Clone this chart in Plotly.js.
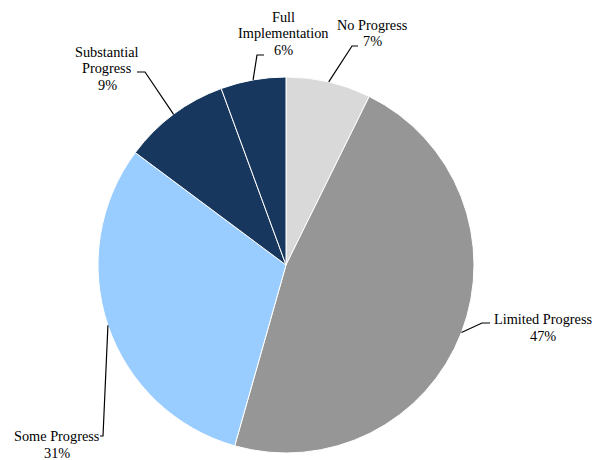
<!DOCTYPE html>
<html>
<head>
<meta charset="utf-8">
<script src="https://cdn.plot.ly/plotly-3.0.1.min.js"></script>
<style>html,body{margin:0;padding:0;background:#fff;}#chart{width:602px;height:460px;}</style>
</head>
<body>
<div id="chart"></div>
<script>
// Data
const categories = ["No Progress", "Limited Progress", "Some Progress", "Substantial Progress", "Full Implementation"];
const values = [7.3, 47.1, 30.8, 9.2, 5.6];
const labelLines = [["No Progress"], ["Limited Progress"], ["Some Progress"], ["Substantial", "Progress"], ["Full", "Implementation"]];
const colors = ["#d9d9d9", "#969696", "#99ccff", "#17375e", "#17375e"];

// Layout constants (pixels)
const W = 602, H = 460;
const CX = 286, CY = 265, R = 188;
const labelPos = [
  {elbow: [352, 46], end: [358, 46], tx: 372, ty: 25},
  {elbow: [482, 323], end: [490, 323], tx: 543, ty: 319},
  {elbow: [103, 436], end: [100, 436], tx: 57, ty: 436},
  {elbow: [145, 72], end: [137, 72], tx: 107, ty: 52},
  {elbow: [257, 55], end: [264, 55], tx: 283, ty: 17}
];
const LINE_STEP = 16.5;

const px = x => x / W;
const py = y => 1 - y / H;

const total = values.reduce((a, b) => a + b, 0);
const fmtPct = v => Math.round(v / total * 100) + "%";

const shapes = [];
const annotations = [];
let cum = 0;
values.forEach((v, i) => {
  const mid = (cum + v / 2) / total * 2 * Math.PI;
  cum += v;
  const sx = CX + R * Math.sin(mid);
  const sy = CY - R * Math.cos(mid);
  const p = labelPos[i];
  shapes.push({
    type: "path", xref: "paper", yref: "paper",
    path: `M ${px(sx)},${py(sy)} L ${px(p.elbow[0])},${py(p.elbow[1])} L ${px(p.end[0])},${py(p.end[1])}`,
    line: {color: "#000", width: 1.2}
  });
  const lines = labelLines[i].concat([fmtPct(v)]);
  lines.forEach((t, k) => {
    annotations.push({
      xref: "paper", yref: "paper", x: px(p.tx), y: py(p.ty + k * LINE_STEP),
      xanchor: "center", yanchor: "middle", showarrow: false, text: t,
      borderpad: 0,
      font: {family: "Liberation Serif, Times New Roman, serif", size: 14.3, color: "#000"}
    });
  });
});

const trace = {
  type: "pie",
  labels: categories,
  values: values,
  sort: false,
  direction: "clockwise",
  rotation: 0,
  textinfo: "none",
  hoverinfo: "label+percent",
  marker: {colors: colors, line: {color: "#ffffff", width: 1}},
  domain: {x: [px(CX - R), px(CX + R)], y: [py(CY + R), py(CY - R)]}
};

const layout = {
  width: W, height: H,
  margin: {l: 0, r: 0, t: 0, b: 0},
  showlegend: false,
  paper_bgcolor: "#fff",
  plot_bgcolor: "#fff",
  shapes: shapes,
  annotations: annotations
};

Plotly.newPlot("chart", [trace], layout, {staticPlot: true, displayModeBar: false});
</script>
</body>
</html>
